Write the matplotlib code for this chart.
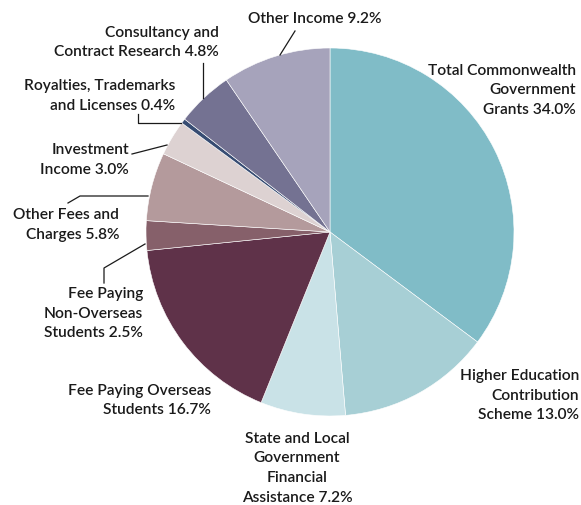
import matplotlib.pyplot as plt
from matplotlib import font_manager

# income sources, clockwise from 12 o'clock
categories = [
    "Total Commonwealth\nGovernment\nGrants",
    "Higher Education\nContribution\nScheme",
    "State and Local\nGovernment\nFinancial\nAssistance",
    "Fee Paying Overseas\nStudents",
    "Fee Paying\nNon-Overseas\nStudents",
    "Other Fees and\nCharges",
    "Investment\nIncome",
    "Royalties, Trademarks\nand Licenses",
    "Consultancy and\nContract Research",
    "Other Income",
]
shares = [34.0, 13.0, 7.2, 16.7, 2.5, 5.8, 3.0, 0.4, 4.8, 9.2]
colors = ["#80bcc7", "#a7cfd5", "#c9e2e7", "#5f3249", "#86606a",
          "#b49a9c", "#ddd2d2", "#374c72", "#747292", "#a6a3bb"]

names = {f.name for f in font_manager.fontManager.ttflist}
fam = [f for f in ["Liberation Sans Narrow", "Lato", "DejaVu Sans"] if f in names]
plt.rcParams['font.family'] = fam

W, H = 581, 505
fig = plt.figure(figsize=(W / 100, H / 100), dpi=100)
ax = fig.add_axes([0, 0, 1, 1])

cx, cy, r = 330, H - 232, 184
ax.pie(shares, colors=colors, startangle=90, counterclock=False,
       center=(cx, cy), radius=r, normalize=True,
       wedgeprops=dict(edgecolor='white', linewidth=0.4))
ax.set_xlim(0, W)
ax.set_ylim(0, H)
ax.set_aspect('equal')
ax.axis('off')

labels = [f"{c} {v:.1f}%" for c, v in zip(categories, shares)]

# label placement in pixel coords (x, first-line centre y from top, alignment)
spots = [
    (576, 70, 'right'),
    (579, 375, 'right'),
    (297, 438, 'center'),
    (211, 390, 'right'),
    (143, 293, 'right'),
    (119, 214, 'right'),
    (129, 149, 'right'),
    (175, 85, 'right'),
    (219, 32, 'right'),
    (248, 18, 'left'),
]
for lab, (x, y, ha) in zip(labels, spots):
    ax.text(x, H - y + 6, lab, ha=ha, va='top', ma=ha, fontsize=11.2,
            fontweight='semibold', linespacing=1.5, color='#1a1a1a')

# leader lines
leaders = [
    [(280, 55), (295, 31)],
    [(203, 63), (203, 98)],
    [(138, 114), (138, 123), (181, 123)],
    [(132, 154), (167, 145)],
    [(68, 203), (80, 196), (148, 196)],
    [(104, 283), (104, 268), (145, 244)],
]
for pts in leaders:
    ax.plot([p[0] for p in pts], [H - p[1] for p in pts],
            color='#1a1a1a', lw=0.9)

fig.savefig("out.png", dpi=100)
